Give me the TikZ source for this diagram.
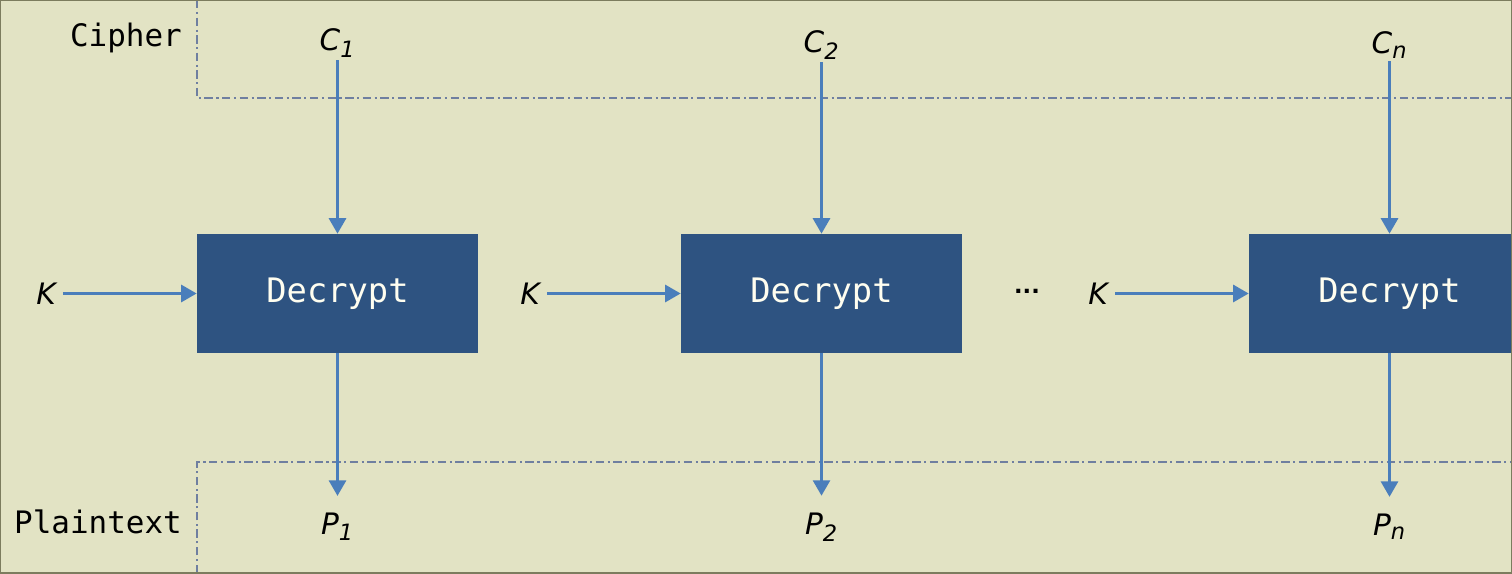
\documentclass[tikz,border=0pt]{standalone}
\usepackage{fontspec}
\setmainfont{DejaVu Sans}
\setmonofont{DejaVu Sans Mono}
\usepackage{tikz}
\usetikzlibrary{positioning}
\usetikzlibrary{arrows.meta}
\usepackage{xcolor}

\definecolor{paper}{HTML}{E2E3C4}
\definecolor{frameline}{HTML}{7C7C5E}
\definecolor{boxblue}{HTML}{2E5381}
\definecolor{arrowblue}{HTML}{4A7EBB}
\definecolor{sepline}{HTML}{6F7FA0}

\tikzset{
decbox/.style={fill=boxblue, draw=none, minimum width=7.025cm, minimum height=2.975cm, text=white!94!yellow, font=\ttfamily\fontsize{24}{24}\selectfont},
flow/.style={arrowblue, line width=2.2pt, -{Triangle[width=12pt,length=11pt]}},
sep/.style={sepline, line width=1.3pt, dash pattern=on 6pt off 2.5pt on 1.5pt off 2.5pt},
var/.style={font=\itshape\fontsize{21}{21}\selectfont, inner sep=2pt},
rowlabel/.style={font=\ttfamily\fontsize{22}{22}\selectfont}
}

\newcommand{\sub}[1]{$_{\mbox{\fontsize{16}{16}\selectfont\itshape #1}}$}

\begin{document}
\begin{tikzpicture}[x=0.025cm, y=0.025cm]

\useasboundingbox (0,0) rectangle (1512,573);
\fill[paper] (0,0) rectangle (1512,573);

\begin{scope}
{
\clip (0,0) rectangle (1512,573);

% separators
\draw[sep] (197,573)--(197,475)--(1512,475);
\draw[sep] (197,0)--(197,111)--(1512,111);

% row labels
\node[rowlabel] (cipher) at (126,535) {Cipher};
\node[rowlabel] (plain) at (98,51) {Plaintext};

% decrypt blocks
\node[decbox] (dec1) at (337.5,279.5) {Decrypt};
\node[decbox] (dec2) at (821.5,279.5) {Decrypt};
\node[decbox] (dec3) at (1389.5,279.5) {Decrypt};

% ciphertext blocks
\node[var] (c1) at (337.5,530) {C\sub{1}};
\node[var] (c2) at (821.5,528) {C\sub{2}};
\node[var] (cn) at (1389.5,528) {C\sub{n}};

% plaintext blocks
\node[var] (p1) at (337.5,46) {P\sub{1}};
\node[var] (p2) at (821.5,46) {P\sub{2}};
\node[var] (pn) at (1389.5,46) {P\sub{n}};

% keys
\node[var] (k1) at (46,279.5) {K};
\node[var] (k2) at (530,279.5) {K};
\node[var] (k3) at (1098,279.5) {K};
\node[font=\fontsize{16}{16}\selectfont] (dots) at (1027,282) {\textbf{...}};

% connectors
\draw[flow] (c1.south) -- (dec1.north);
\draw[flow] (c2.south) -- (dec2.north);
\draw[flow] (cn.south) -- (dec3.north);

\draw[flow, shorten >=10pt] (dec1.south) -- (p1.north);
\draw[flow, shorten >=10pt] (dec2.south) -- (p2.north);
\draw[flow, shorten >=10pt] (dec3.south) -- (pn.north);

\draw[flow, shorten <=3pt] (k1.east) -- (dec1.west);
\draw[flow, shorten <=3pt] (k2.east) -- (dec2.west);
\draw[flow, shorten <=3pt] (k3.east) -- (dec3.west);
}
\end{scope}

\draw[frameline, line width=2pt] (0,0) rectangle (1512,573);

\end{tikzpicture}
\end{document}
